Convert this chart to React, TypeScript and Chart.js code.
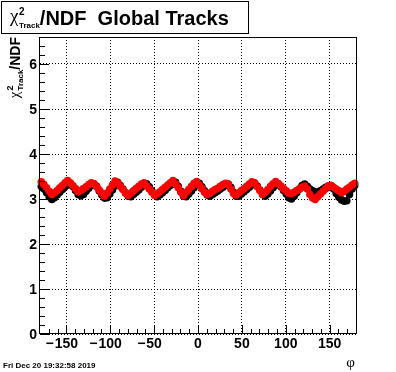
import React, { useEffect, useRef } from "react";
import { Chart, registerables } from "chart.js";

Chart.register(...registerables);

// phi bin centres (degrees)
const PHI: number[] = [
  -178.5, -175.5, -172.5, -169.5, -166.5, -163.5, -160.5, -157.5, -154.5, -151.5,
  -148.5, -145.5, -142.5, -139.5, -136.5, -133.5, -130.5, -127.5, -124.5, -121.5,
  -118.5, -115.5, -112.5, -109.5, -106.5, -103.5, -100.5, -97.5, -94.5, -91.5,
  -88.5, -85.5, -82.5, -79.5, -76.5, -73.5, -70.5, -67.5, -64.5, -61.5,
  -58.5, -55.5, -52.5, -49.5, -46.5, -43.5, -40.5, -37.5, -34.5, -31.5,
  -28.5, -25.5, -22.5, -19.5, -16.5, -13.5, -10.5, -7.5, -4.5, -1.5,
  1.5, 4.5, 7.5, 10.5, 13.5, 16.5, 19.5, 22.5, 25.5, 28.5,
  31.5, 34.5, 37.5, 40.5, 43.5, 46.5, 49.5, 52.5, 55.5, 58.5,
  61.5, 64.5, 67.5, 70.5, 73.5, 76.5, 79.5, 82.5, 85.5, 88.5,
  91.5, 94.5, 97.5, 100.5, 103.5, 106.5, 109.5, 112.5, 115.5, 118.5,
  121.5, 124.5, 127.5, 130.5, 133.5, 136.5, 139.5, 142.5, 145.5, 148.5,
  151.5, 154.5, 157.5, 160.5, 163.5, 166.5, 169.5, 172.5, 175.5, 178.5,
];

// red series: chi2/NDF
const RED: number[] = [
  3.38, 3.32, 3.25, 3.17, 3.10, 3.14, 3.19, 3.25, 3.30, 3.36,
  3.41, 3.36, 3.30, 3.23, 3.16, 3.19, 3.23, 3.27, 3.32, 3.36,
  3.34, 3.27, 3.20, 3.13, 3.06, 3.13, 3.22, 3.31, 3.40, 3.36,
  3.28, 3.21, 3.13, 3.08, 3.13, 3.18, 3.23, 3.28, 3.33, 3.36,
  3.29, 3.22, 3.15, 3.08, 3.11, 3.16, 3.21, 3.26, 3.31, 3.36,
  3.41, 3.34, 3.25, 3.15, 3.08, 3.15, 3.21, 3.28, 3.35, 3.39,
  3.31, 3.23, 3.15, 3.10, 3.13, 3.17, 3.21, 3.24, 3.28, 3.32,
  3.35, 3.32, 3.22, 3.12, 3.09, 3.14, 3.19, 3.23, 3.28, 3.33,
  3.38, 3.36, 3.27, 3.19, 3.10, 3.15, 3.21, 3.28, 3.34, 3.39,
  3.34, 3.29, 3.23, 3.18, 3.13, 3.12, 3.15, 3.19, 3.22, 3.26,
  3.29, 3.22, 3.10, 3.02, 2.99, 3.05, 3.11, 3.17, 3.23, 3.29,
  3.30, 3.26, 3.22, 3.18, 3.14, 3.17, 3.22, 3.26, 3.31, 3.35,
];

// black series: chi2/NDF
const BLACK: number[] = [
  3.28, 3.22, 3.14, 3.05, 2.99, 3.03, 3.09, 3.15, 3.21, 3.27,
  3.31, 3.35, 3.28, 3.19, 3.10, 3.07, 3.10, 3.17, 3.24, 3.30,
  3.34, 3.28, 3.18, 3.09, 3.02, 3.03, 3.11, 3.20, 3.29, 3.37,
  3.30, 3.22, 3.14, 3.06, 3.05, 3.10, 3.15, 3.20, 3.26, 3.31,
  3.34, 3.27, 3.18, 3.10, 3.05, 3.09, 3.14, 3.19, 3.25, 3.30,
  3.34, 3.37, 3.28, 3.17, 3.06, 3.05, 3.11, 3.18, 3.25, 3.31,
  3.35, 3.27, 3.18, 3.09, 3.06, 3.10, 3.14, 3.18, 3.22, 3.26,
  3.30, 3.33, 3.26, 3.15, 3.06, 3.06, 3.11, 3.16, 3.21, 3.26,
  3.31, 3.35, 3.29, 3.20, 3.11, 3.06, 3.11, 3.18, 3.25, 3.31,
  3.34, 3.27, 3.19, 3.11, 3.03, 3.00, 3.06, 3.14, 3.22, 3.30,
  3.33, 3.28, 3.22, 3.18, 3.16, 3.15, 3.18, 3.22, 3.26, 3.29,
  3.30, 3.22, 3.12, 3.04, 2.98, 2.95, 2.96, 3.10, 3.22, 3.30,
];

const X_TICKS: number[] = [-150, -100, -50, 0, 50, 100, 150];
const Y_TICKS: number[] = [0, 1, 2, 3, 4, 5, 6];
const X_MIN = -180;
const X_MAX = 180;
const Y_MIN = 0;
const Y_MAX = 6.6;

const TITLE_MAIN = "/NDF  Global Tracks";
const Y_TITLE_MAIN = "/NDF";
const SUB = "Track";
const SUP = "2";
const CHI = "χ";
const X_TITLE = "φ";
const DATE_TEXT = "Fri Dec 20 19:32:58 2019";

const SANS = '"Liberation Sans", Arial, Helvetica, sans-serif';
const SERIF = '"Liberation Serif", "Times New Roman", serif';

const rootPlugin = {
  id: "rootDecor",
  afterDraw(chart: any) {
    const ctx: CanvasRenderingContext2D = chart.ctx;
    const xs = chart.scales.x;
    const ys = chart.scales.y;
    const L = Math.round(chart.chartArea.left);
    const R = Math.round(chart.chartArea.right);
    const T = Math.round(chart.chartArea.top);
    const B = Math.round(chart.chartArea.bottom);
    ctx.save();
    ctx.strokeStyle = "#000";
    ctx.fillStyle = "#000";
    ctx.lineWidth = 1;
    ctx.setLineDash([]);

    // frame
    ctx.strokeRect(L - 0.5, T + 0.5, R - L + 1, B - T - 1);

    // x ticks
    ctx.beginPath();
    for (let v = -170; v <= 170; v += 10) {
      const px = Math.round(xs.getPixelForValue(v)) + 0.5;
      const len = v % 50 === 0 ? 9 : 5;
      ctx.moveTo(px, B);
      ctx.lineTo(px, B - len);
    }
    // y ticks
    for (let k = 0; k <= 33; k++) {
      const v = k / 5;
      const py = Math.round(ys.getPixelForValue(v)) + 0.5;
      const len = k % 5 === 0 ? 9 : 5;
      ctx.moveTo(L, py);
      ctx.lineTo(L + len, py);
    }
    ctx.stroke();

    // x tick labels
    ctx.font = `bold 14px ${SANS}`;
    ctx.textBaseline = "alphabetic";
    for (const v of X_TICKS) {
      const px = xs.getPixelForValue(v);
      const digits = String(Math.abs(v));
      const w = ctx.measureText(digits).width;
      ctx.textAlign = "center";
      ctx.fillText(digits, px, 348);
      if (v < 0) {
        ctx.textAlign = "right";
        ctx.fillText("\u2212", px - w / 2 - 1, 348);
      }
    }
    // y tick labels
    ctx.textAlign = "right";
    ctx.textBaseline = "middle";
    for (const v of Y_TICKS) {
      const py = ys.getPixelForValue(v);
      ctx.fillText(String(v), L - 3, py + 1);
    }

    // x title
    ctx.textBaseline = "alphabetic";
    ctx.textAlign = "right";
    ctx.font = `15px ${SERIF}`;
    ctx.fillText(X_TITLE, R - 1, 367);

    // date
    ctx.textAlign = "left";
    ctx.font = `bold 8px ${SANS}`;
    ctx.fillText(DATE_TEXT, 3, 368);

    // title box
    ctx.fillStyle = "#fff";
    ctx.fillRect(1.5, 1.5, 247, 32);
    ctx.strokeRect(1.5, 1.5, 247, 32);
    ctx.fillStyle = "#000";
    ctx.textAlign = "left";
    let x = 10;
    ctx.font = `19px ${SERIF}`;
    ctx.fillText(CHI, x, 22);
    x += ctx.measureText(CHI).width + 0.5;
    ctx.font = `bold 10px ${SANS}`;
    ctx.fillText(SUP, x, 15);
    ctx.font = `bold 8px ${SANS}`;
    ctx.fillText(SUB, x, 28);
    x += ctx.measureText(SUB).width;
    ctx.font = `bold 20px ${SANS}`;
    ctx.fillText(TITLE_MAIN, x, 25);

    // y title (rotated)
    ctx.save();
    ctx.translate(20, 37);
    ctx.rotate(-Math.PI / 2);
    ctx.font = `bold 14px ${SANS}`;
    const wMain = ctx.measureText(Y_TITLE_MAIN).width;
    ctx.font = `bold 8px ${SANS}`;
    const wSub = ctx.measureText(SUB).width;
    ctx.font = `15px ${SERIF}`;
    const wChi = ctx.measureText(CHI).width;
    let u = -(wMain + wSub + wChi + 1);
    ctx.fillText(CHI, u, -1);
    u += wChi + 1;
    ctx.font = `bold 9px ${SANS}`;
    ctx.fillText(SUP, u, -7);
    ctx.font = `bold 8px ${SANS}`;
    ctx.fillText(SUB, u, 3);
    u += wSub;
    ctx.font = `bold 14px ${SANS}`;
    ctx.fillText(Y_TITLE_MAIN, u, 0);
    ctx.restore();

    ctx.restore();
  },
};

export default function App() {
  const ref = useRef<HTMLCanvasElement | null>(null);
  useEffect(() => {
    if (!ref.current) return;
    const redPts = PHI.map((p, i) => ({ x: p, y: RED[i] }));
    const blackPts = PHI.map((p, i) => ({ x: p, y: BLACK[i] }));
    const chart = new Chart(ref.current, {
      type: "scatter",
      data: {
        datasets: [
          {
            label: "red",
            data: redPts,
            pointRadius: 3.8,
            pointBorderWidth: 0,
            pointBackgroundColor: "#ff0000",
            backgroundColor: "#ff0000",
            borderColor: "#ff0000",
            clip: false as any,
          },
          {
            label: "black",
            data: blackPts,
            pointRadius: 3.8,
            pointBorderWidth: 0,
            pointBackgroundColor: "#000000",
            backgroundColor: "#000000",
            borderColor: "#000000",
            clip: false as any,
          },
        ],
      },
      options: {
        animation: false,
        responsive: false,
        devicePixelRatio: 1,
        events: [],
        layout: { padding: { left: 0, right: 40, top: 37, bottom: 0 } },
        plugins: {
          legend: { display: false },
          tooltip: { enabled: false },
          title: { display: false },
        },
        scales: {
          x: {
            type: "linear",
            min: X_MIN,
            max: X_MAX,
            afterBuildTicks: (s: any) => {
              s.ticks = X_TICKS.map((v) => ({ value: v }));
            },
            afterFit: (s: any) => {
              s.height = 38;
            },
            ticks: { display: false },
            grid: { color: "#000", lineWidth: 1, drawTicks: false },
            border: { display: false, dash: [1, 2] },
          },
          y: {
            type: "linear",
            min: Y_MIN,
            max: Y_MAX,
            afterBuildTicks: (s: any) => {
              s.ticks = Y_TICKS.map((v) => ({ value: v }));
            },
            afterFit: (s: any) => {
              s.width = 40;
            },
            ticks: { display: false },
            grid: { color: "#000", lineWidth: 1, drawTicks: false },
            border: { display: false, dash: [1, 2] },
          },
        },
      } as any,
      plugins: [rootPlugin],
    });
    return () => chart.destroy();
  }, []);
  return (
    <div style={{ position: "absolute", left: 0, top: 0, width: 396, height: 372, background: "#fff" }}>
      <canvas ref={ref} width={396} height={372} style={{ display: "block", width: 396, height: 372 }} />
    </div>
  );
}
